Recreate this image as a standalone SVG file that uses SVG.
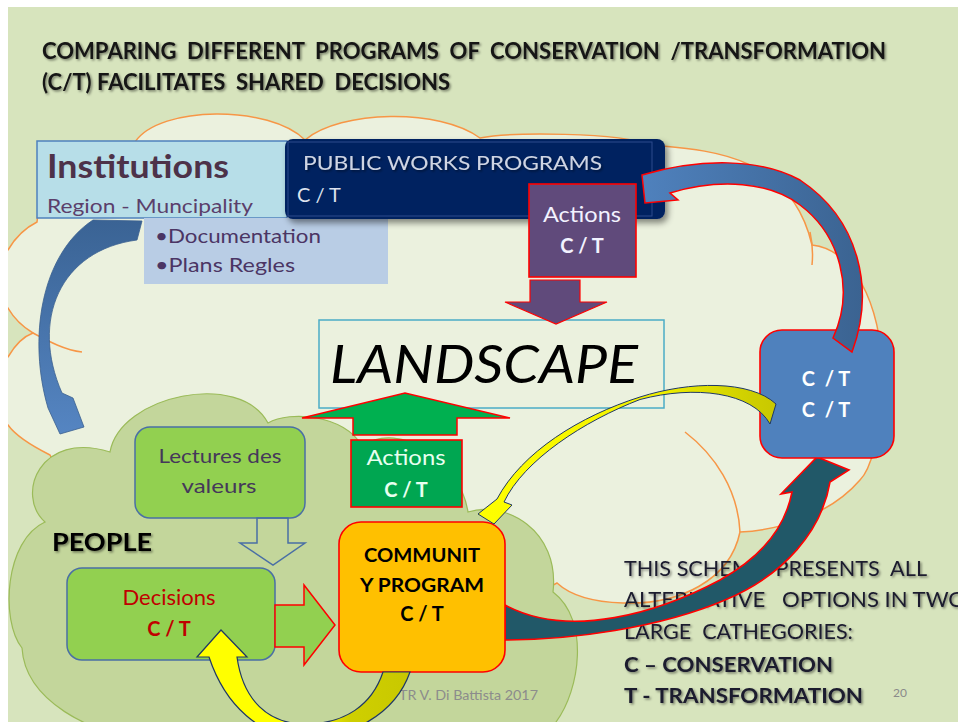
<svg xmlns="http://www.w3.org/2000/svg" width="958" height="722" viewBox="0 0 958 722">
<defs>
<style>
.t{font-family:Lato,'Open Sans','Liberation Sans',sans-serif}
.b{font-weight:bold}
.sh{filter:url(#ts)}
.cloud{fill:#ebf1de;stroke:#f79646;stroke-width:1.5}
.crease{fill:none;stroke:#f79646;stroke-width:1.5}
.people{fill:#c3d69b;stroke:#9bbb59;stroke-width:1.2}
.redline{stroke:#ff0000;stroke-width:1.6}
.greenbox{fill:#92d050;stroke:#4a6fa5;stroke-width:1.5}
</style>
<clipPath id="slide"><rect x="8" y="7" width="950" height="715"/></clipPath>
<filter id="ts" x="-5%" y="-30%" width="110%" height="160%"><feDropShadow dx="1.5" dy="1.5" stdDeviation="0.8" flood-color="#000" flood-opacity="0.45"/></filter>
<filter id="bs" x="-10%" y="-20%" width="125%" height="150%"><feDropShadow dx="3" dy="4" stdDeviation="3" flood-color="#000" flood-opacity="0.45"/></filter>
<linearGradient id="gBlueR" x1="0" y1="0" x2="1" y2="0"><stop offset="0" stop-color="#4f81bd"/><stop offset="1" stop-color="#3b6391"/></linearGradient>
<linearGradient id="gBlueL" x1="0" y1="0" x2="0" y2="1"><stop offset="0" stop-color="#3a6394"/><stop offset="1" stop-color="#5585c2"/></linearGradient>
<linearGradient id="gYelU" x1="0" y1="0" x2="1" y2="0"><stop offset="0" stop-color="#ffff00"/><stop offset="0.5" stop-color="#ffff00"/><stop offset="0.72" stop-color="#cfcf00"/><stop offset="1" stop-color="#c8c800"/></linearGradient>
<linearGradient id="gYelT" x1="0" y1="0" x2="1" y2="0"><stop offset="0" stop-color="#ffff00"/><stop offset="0.6" stop-color="#f0f000"/><stop offset="0.9" stop-color="#d0d000"/><stop offset="1" stop-color="#c8c800"/></linearGradient>
</defs>

<rect width="958" height="722" fill="#ffffff"/>
<rect x="8" y="7" width="950" height="715" fill="#d7e4bd"/>

<g id="backgrounds" clip-path="url(#slide)">
  <path id="big-cloud" class="cloud" d="M50,455 C30,445 15,435 8,425 L-20,400 L-20,370 L8,357 C15,345 22,337 33,333 C20,325 12,315 8,308 L-20,300 L-20,260 L8,250 C15,238 25,228 37,222 C40,170 90,145 135,142 C160,105 270,105 305,140 C340,110 440,108 480,138 C510,132 620,132 650,145 C700,150 790,150 812,245 C860,250 885,320 882,385 C880,440 870,470 860,480 C830,515 780,530 740,532 C730,580 680,605 623,603 C590,602 570,595 557,583 L540,592 L300,600 L60,475 Z"/>
  <path class="crease" d="M33,333 C50,342 65,350 82,352"/>
  <path class="crease" d="M810,232 C813,245 813,255 812,265"/>
  <path class="crease" d="M685,432 C715,455 738,490 740,532"/>
  <path id="people-cloud" class="people" d="M45,522 C15,495 40,430 110,452 C120,395 240,370 268,423 C290,410 345,415 362,446 C400,420 460,460 468,512 C505,500 560,530 553,592 C590,620 580,690 556,722 L556,740 L150,740 C90,735 25,700 22,648 C0,620 5,540 45,522 Z"/>
</g>

<g id="title" class="t b sh" fill="#141414" font-size="22">
  <text x="42" y="59" textLength="844" lengthAdjust="spacingAndGlyphs" xml:space="preserve">COMPARING  DIFFERENT  PROGRAMS  OF  CONSERVATION  /TRANSFORMATION</text>
  <text x="42" y="90" textLength="408" lengthAdjust="spacingAndGlyphs" xml:space="preserve">(C/T) FACILITATES  SHARED  DECISIONS</text>
</g>

<g id="institutions">
  <rect x="37" y="141" width="250" height="77" fill="#b7dee8" stroke="#4f81bd" stroke-width="1.5"/>
  <text class="t b" x="47" y="178" font-size="32" fill="#4d3249" textLength="182" lengthAdjust="spacingAndGlyphs">Institutions</text>
  <text class="t" x="47" y="213" font-size="19" fill="#5b3f6b" textLength="206" lengthAdjust="spacingAndGlyphs" xml:space="preserve">Region - Muncipality</text>
</g>

<g id="documentation">
  <rect x="144" y="218" width="244" height="66" fill="#b9cde5"/>
  <text class="t" x="155" y="243" font-size="19" fill="#4b3564" textLength="166" lengthAdjust="spacingAndGlyphs">•Documentation</text>
  <text class="t" x="155" y="272" font-size="19" fill="#4b3564" textLength="140" lengthAdjust="spacingAndGlyphs">•Plans Regles</text>
</g>

<g id="public-works">
  <rect x="285" y="139" width="380" height="80" rx="8" fill="#002060" filter="url(#bs)"/>
  <rect x="288" y="142" width="364" height="74" fill="none" stroke="#2c4a8c" stroke-width="1"/>
  <text class="t sh" x="303" y="170" font-size="19" fill="#cfd5e3" textLength="299" lengthAdjust="spacingAndGlyphs">PUBLIC WORKS PROGRAMS</text>
  <text class="t" x="297" y="202" font-size="20" fill="#dde2ee" xml:space="preserve">C / T</text>
</g>

<g id="actions-purple">
  <rect x="529" y="184" width="107" height="93" fill="#604a7b" class="redline"/>
  <text class="t" x="582" y="222" font-size="21" fill="#f2f2ff" text-anchor="middle" textLength="78" lengthAdjust="spacingAndGlyphs">Actions</text>
  <text class="t b" x="582" y="253" font-size="20" fill="#f2f2ff" text-anchor="middle" xml:space="preserve">C / T</text>
</g>

<g id="landscape">
  <rect x="319" y="320" width="345" height="88" fill="#ebf1de" stroke="#4bacc6" stroke-width="1.5"/>
  <text class="t" x="330" y="383" font-size="52" font-style="italic" fill="#000" textLength="308" lengthAdjust="spacingAndGlyphs">LANDSCAPE</text>
</g>

<g id="actions-green">
  <rect x="351" y="440" width="111" height="67" fill="#00a651" class="redline"/>
  <text class="t" x="406" y="465" font-size="21" fill="#e8fff0" text-anchor="middle" textLength="79" lengthAdjust="spacingAndGlyphs">Actions</text>
  <text class="t b" x="406" y="497" font-size="20" fill="#e8fff0" text-anchor="middle" xml:space="preserve">C / T</text>
</g>

<g id="lectures">
  <rect x="135" y="427" width="170" height="91" rx="15" class="greenbox"/>
  <text class="t" x="220" y="463" font-size="20" fill="#45385a" text-anchor="middle" textLength="123" lengthAdjust="spacingAndGlyphs">Lectures des</text>
  <text class="t" x="219" y="493" font-size="20" fill="#45385a" text-anchor="middle" textLength="75" lengthAdjust="spacingAndGlyphs">valeurs</text>
</g>

<g id="people-label">
  <text class="t b sh" x="52" y="551" font-size="24" fill="#000" textLength="100" lengthAdjust="spacingAndGlyphs">PEOPLE</text>
</g>

<g id="decisions">
  <rect x="67" y="568" width="208" height="92" rx="15" class="greenbox"/>
  <text class="t" x="169" y="605" font-size="21" fill="#c00000" text-anchor="middle" textLength="93" lengthAdjust="spacingAndGlyphs">Decisions</text>
  <text class="t b" x="169" y="636" font-size="20" fill="#c00000" text-anchor="middle" xml:space="preserve">C / T</text>
</g>

<g id="note" class="t sh" fill="#1a1a2e" font-size="21">
  <text x="624" y="576" textLength="303" lengthAdjust="spacingAndGlyphs" xml:space="preserve">THIS SCHEME  PRESENTS  ALL</text>
  <text x="624" y="607" textLength="342" lengthAdjust="spacingAndGlyphs" xml:space="preserve">ALTERNATIVE   OPTIONS IN TWO</text>
  <text x="624" y="639" textLength="229" lengthAdjust="spacingAndGlyphs" xml:space="preserve">LARGE  CATHEGORIES:</text>
  <text x="624" y="672" class="b" textLength="209" lengthAdjust="spacingAndGlyphs">C – CONSERVATION</text>
  <text x="624" y="703" class="b" textLength="239" lengthAdjust="spacingAndGlyphs">T - TRANSFORMATION</text>
</g>

<g id="footer" class="t">
  <text x="893" y="697" font-size="12" fill="#8a8a8a">20</text>
  <text x="399" y="700" font-size="12.5" fill="#8c8c8c" textLength="139" lengthAdjust="spacingAndGlyphs">TR V. Di Battista 2017</text>
</g>

<g id="connectors">
  <path id="arrow-actions-down" d="M530,280 L580,280 L580,302 L607,302 L556,324 L505,302 L530,302 Z" fill="#604a7b" stroke="#ff0000" stroke-width="1.2"/>
  <path id="arrow-actions-up" d="M353,435 L457,435 L457,418 L510,418 L405,393 L302,418 L353,418 Z" fill="#00b050" stroke="#ff0000" stroke-width="1.5"/>
  <path id="arrow-lectures-down" d="M257,518 L288,518 L288,543 L305,543 L273,565 L240,543 L257,543 Z" fill="none" stroke="#4a6fa5" stroke-width="1.5"/>
  <path id="arrow-decisions-right" d="M275,605 L304,605 L304,585 L335,625 L304,665 L304,647 L275,647 Z" fill="#92d050" stroke="#ff0000" stroke-width="1.5"/>
  <path id="arrow-community-ct" d="M505,605 C570,640 660,612 720,580 C760,558 785,528 792,492 L781,494 L817,457 L849,470 L830,482 C822,530 785,575 725,600 C660,628 570,640 505,640 Z" fill="#215868" stroke="#ff0000" stroke-width="1.6"/>
</g>

<g id="community">
  <rect x="339" y="522" width="166" height="150" rx="22" fill="#ffc000" class="redline"/>
  <text class="t b" x="422" y="562" font-size="18" fill="#000" text-anchor="middle" textLength="116" lengthAdjust="spacingAndGlyphs">COMMUNIT</text>
  <text class="t b" x="422" y="592" font-size="18" fill="#000" text-anchor="middle" textLength="124" lengthAdjust="spacingAndGlyphs">Y PROGRAM</text>
  <text class="t b" x="422" y="621" font-size="20" fill="#000" text-anchor="middle" xml:space="preserve">C / T</text>
</g>

<g id="ct-box">
  <rect x="760" y="330" width="134" height="128" rx="22" fill="#4f81bd" class="redline"/>
  <text class="t b" x="826" y="386" font-size="20" fill="#ffffff" text-anchor="middle" xml:space="preserve">C  / T</text>
  <text class="t b" x="826" y="417" font-size="20" fill="#ffffff" text-anchor="middle" xml:space="preserve">C  / T</text>
</g>

<g id="connectors-curved">
  <path id="arrow-community-decisions" d="M209,657 C225,705 260,738 305,738 C350,738 395,715 410,672 L383,672 C372,705 345,724 305,724 C268,724 243,700 237,657 L247,657 L221,630 L197,657 Z" fill="url(#gYelU)" stroke="#1f3864" stroke-width="1.2"/>
  <path id="arrow-ct-publicworks" d="M852,352 C875,290 860,220 800,180 C760,158 700,158 642,175 L645,203 L678,200 L670,193 C720,178 770,182 800,205 C840,235 855,290 833,338 Z" fill="url(#gBlueR)" stroke="#ff0000" stroke-width="1.5"/>
  <path id="arrow-ct-community" d="M776,404 C750,380 690,381 640,397 C580,416 522,452 497,499 L478,514 L494,524 L512,505 L504,502 C524,460 584,421 640,399.5 C695,385 752,392 770,424 Z" fill="url(#gYelT)" stroke="#1f3864" stroke-width="1"/>
  <path id="arrow-institutions-people" d="M93,220 L142,221 L137,240 C60,250 30,320 62,393 L73,398 L84,427 L60,434 L48,408 C28,340 40,255 93,220 Z" fill="url(#gBlueL)" stroke="#3a5f8f" stroke-width="0.8"/>
</g>
</svg>
